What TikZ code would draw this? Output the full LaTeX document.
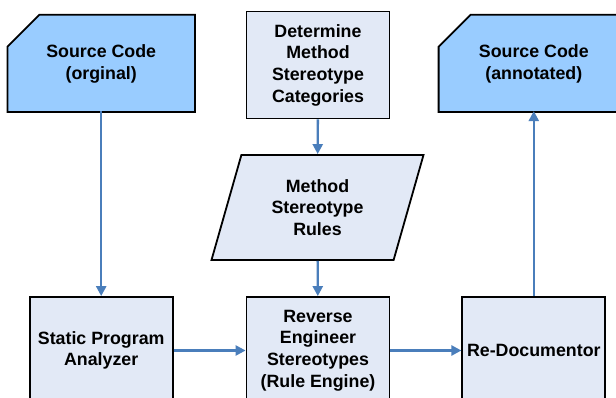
\documentclass[tikz,border=0pt]{standalone}
\usepackage{fontspec}
\setmainfont{Liberation Sans}
\usetikzlibrary{shapes.geometric, arrows.meta, positioning, backgrounds}
\definecolor{codeBlue}{RGB}{153,204,255}
\definecolor{stepFill}{RGB}{226,233,246}
\definecolor{flowBlue}{RGB}{74,126,187}

\begin{document}
\begin{tikzpicture}[
    x=1pt, y=-1pt,
    boxtext/.style={font=\bfseries\fontsize{17.8}{21.7}\selectfont, align=center},
    stepbox/.style={boxtext, rectangle, draw, line width=1.8pt, fill=stepFill, minimum width=143pt, minimum height=107pt, inner sep=2pt},
    rules/.style={boxtext, trapezium, trapezium left angle=63.7, trapezium right angle=116.3, trapezium stretches body, draw, line width=1.8pt, fill=stepFill, minimum width=212pt, minimum height=105pt, inner sep=2pt},
    code/.style={boxtext, rectangle, minimum height=94pt, inner sep=2pt},
    codeshape/.style={draw, line width=1.8pt, fill=codeBlue},
    arrow/.style={-{Triangle[length=10pt, width=10pt]}, line width=2.4pt, draw=flowBlue, fill=flowBlue}
]
\useasboundingbox (0,0) rectangle (616,398);

\node[stepbox] (reverse) at (318,350.5) {Reverse\\Engineer\\Stereotypes\\(Rule Engine)};
\node[stepbox, left=72pt of reverse] (analyzer) {Static Program\\Analyzer};
\node[stepbox, right=71pt of reverse] (redoc) {Re-Documentor};
\node[rules] (rules) at (317.5,207.5) {Method\\Stereotype\\Rules};
\node[stepbox] (categories) at (318,65) {Determine\\Method\\Stereotype\\Categories};
\node[code, minimum width=187pt, above=187pt of analyzer, yshift=-2pt] (original) {Source Code\\(orginal)};
\node[code, minimum width=190pt, above=187pt of redoc, yshift=-2pt] (annotated) {Source Code\\(annotated)};

% cut-corner outlines for the source code nodes
\begin{scope}[on background layer]
  \foreach \n in {original, annotated}
    \draw[codeshape] ([xshift=32pt,yshift=2pt]\n.north west) -- ([yshift=2pt]\n.north east) -- ([yshift=-1pt]\n.south east)
      -- ([yshift=-1pt]\n.south west) -- ([yshift=-30pt]\n.north west) -- cycle;
\end{scope}

\draw[arrow] (original) -- (analyzer);
\draw[arrow] (categories) -- (rules);
\draw[arrow] (rules) -- (reverse);
\draw[arrow] (analyzer) -- (reverse);
\draw[arrow] (reverse) -- (redoc);
\draw[arrow] (redoc) -- (annotated);

\end{tikzpicture}
\end{document}
